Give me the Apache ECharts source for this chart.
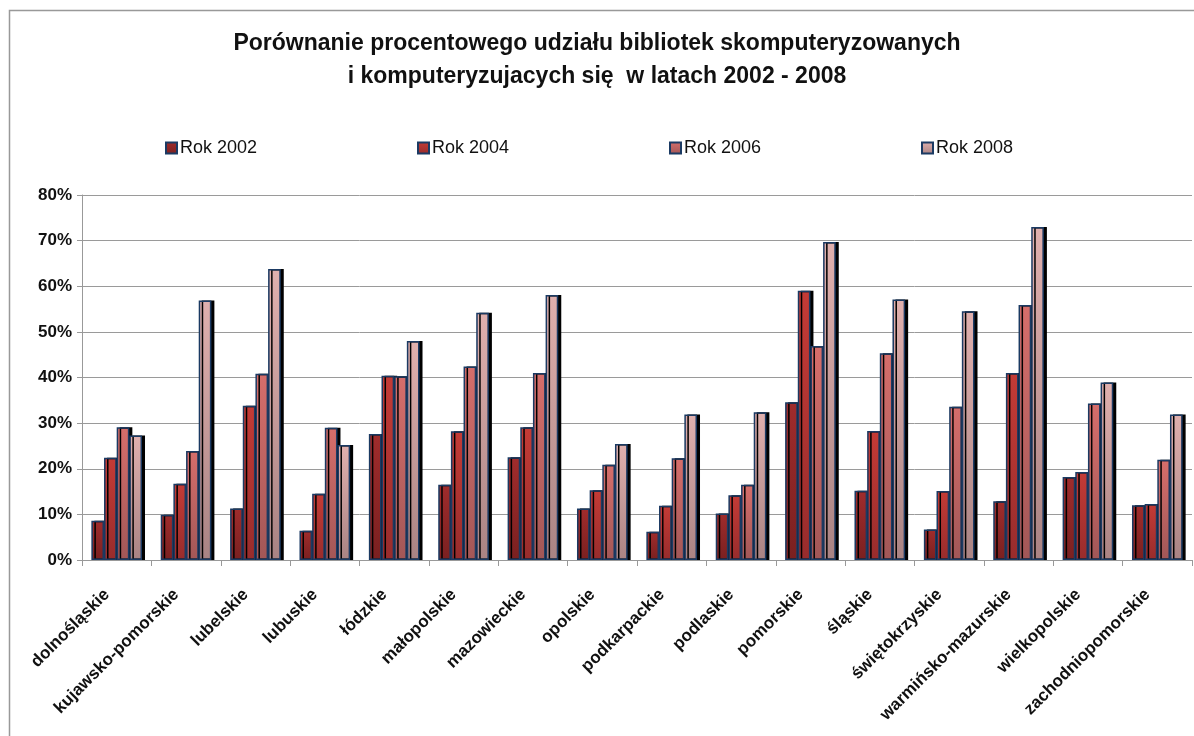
<!DOCTYPE html>
<html>
<head>
<meta charset="utf-8">
<script src="https://cdn.jsdelivr.net/npm/echarts@6/dist/echarts.min.js"></script>
<style>
  html, body { margin: 0; padding: 0; background: #fff; }
  #chart { width: 1194px; height: 736px; }
</style>
</head>
<body>
<div id="chart"></div>
<script>
const regions = ['dolnośląskie', 'kujawsko-pomorskie', 'lubelskie', 'lubuskie', 'łódzkie', 'małopolskie',
  'mazowieckie', 'opolskie', 'podkarpackie', 'podlaskie', 'pomorskie', 'śląskie', 'świętokrzyskie',
  'warmińsko-mazurskie', 'wielkopolskie', 'zachodniopomorskie']
const years = ['Rok 2002', 'Rok 2004', 'Rok 2006', 'Rok 2008']
const rok2002 = [8.6, 9.9, 11.3, 6.4, 27.6, 16.5, 22.5, 11.3, 6.2, 10.2, 34.6, 15.2, 6.7, 12.9, 18.2, 12.0]
const rok2004 = [22.4, 16.7, 33.8, 14.5, 40.4, 28.2, 29.1, 15.3, 11.9, 14.2, 59.0, 28.3, 15.1, 41.0, 19.3, 12.3]
const rok2006 = [29.1, 23.9, 40.8, 29.0, 40.3, 42.4, 41.0, 20.9, 22.3, 16.5, 46.9, 45.3, 33.6, 55.9, 34.3, 22.0]
const rok2008 = [27.3, 56.9, 63.8, 25.2, 48.0, 54.2, 58.1, 25.4, 31.9, 32.4, 69.7, 57.1, 54.5, 73.0, 38.9, 31.9]
const yTicks = [0, 10, 20, 30, 40, 50, 60, 70, 80]

const seriesData = [rok2002, rok2004, rok2006, rok2008]
// top / bottom colours of each bar gradient
const colors = [
  ['#a02c2c', '#7a2020'],
  ['#c43b36', '#982c2c'],
  ['#d66e6b', '#a25757'],
  ['#e0b0ae', '#a98383']
]

const chart = echarts.init(document.getElementById('chart'))

chart.setOption({
  animation: false,
  textStyle: { fontFamily: 'Liberation Sans, Arial, sans-serif' },
  title: {
    text: 'Porównanie procentowego udziału bibliotek skomputeryzowanych\ni komputeryzujacych się  w latach 2002 - 2008',
    left: 'center',
    top: 22,
    textStyle: { fontSize: 23, fontWeight: 'bold', color: '#111', lineHeight: 33 }
  },
  graphic: [{
    type: 'rect',
    shape: { x: 9.5, y: 10.5, width: 1200, height: 800 },
    style: { fill: 'none', stroke: '#999', lineWidth: 1.5 },
    silent: true
  }],
  legend: years.map((name, i) => ({
    data: [name],
    left: 160 + i * 252,
    top: 134,
    icon: 'rect',
    itemWidth: 11,
    itemHeight: 11,
    itemGap: 0,
    textStyle: { fontSize: 18, color: '#111', padding: [0, 0, 0, -2] }
  })),
  grid: { left: 82, right: 2, top: 195, bottom: 176 },
  xAxis: {
    type: 'category',
    data: regions,
    axisLine: { lineStyle: { color: '#999' } },
    axisTick: { show: true, length: 6, lineStyle: { color: '#999' } },
    axisLabel: {
      interval: 0,
      rotate: 45,
      margin: 22,
      padding: [0, 14, 0, 0],
      fontSize: 17,
      fontWeight: 'bold',
      color: '#111'
    }
  },
  yAxis: {
    type: 'value',
    min: yTicks[0],
    max: yTicks[yTicks.length - 1],
    interval: 10,
    axisLine: { show: true, lineStyle: { color: '#999' } },
    axisTick: { show: true, length: 5, lineStyle: { color: '#999' } },
    splitLine: { lineStyle: { color: '#9a9a9a' } },
    axisLabel: {
      formatter: '{value}%',
      fontSize: 17,
      fontWeight: 'bold',
      color: '#111',
      margin: 10
    }
  },
  series: seriesData.map((data, i) => ({
    name: years[i],
    type: 'bar',
    data: data,
    barGap: '0%',
    barCategoryGap: '27%',
    itemStyle: {
      color: new echarts.graphic.LinearGradient(0, 0, 0, 1, [
        { offset: 0, color: colors[i][0] },
        { offset: 1, color: colors[i][1] }
      ]),
      borderColor: '#1b3a63',
      borderWidth: 1.5,
      shadowColor: '#000',
      shadowBlur: 0,
      shadowOffsetX: 3,
      shadowOffsetY: 0
    }
  }))
})
</script>
</body>
</html>
